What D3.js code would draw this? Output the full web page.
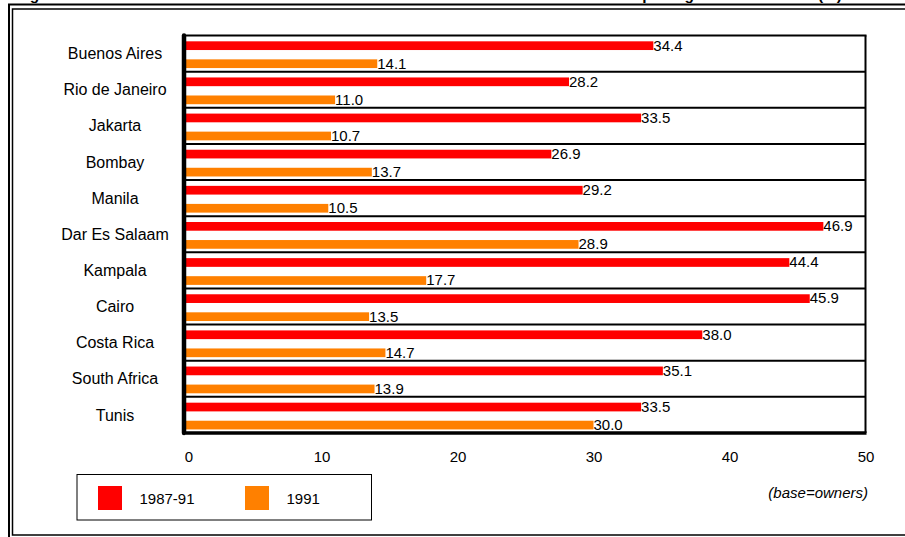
<!DOCTYPE html>
<html>
<head>
<meta charset="utf-8">
<script src="https://cdn.jsdelivr.net/npm/d3@7"></script>
<style>
  body { margin: 0; background: #fff; }
  text { font-family: Arial, "Liberation Sans", sans-serif; fill: #000; }
</style>
</head>
<body>
<div id="chart"></div>
<script>
const width = 905;
const height = 537;

// datos
const cities = ['Buenos Aires', 'Rio de Janeiro', 'Jakarta', 'Bombay', 'Manila',
  'Dar Es Salaam', 'Kampala', 'Cairo', 'Costa Rica', 'South Africa', 'Tunis'];
const series = ['1987-91', '1991'];
const values8791 = [34.4, 28.2, 33.5, 26.9, 29.2, 46.9, 44.4, 45.9, 38.0, 35.1, 33.5];
const values91 = [14.1, 11.0, 10.7, 13.7, 10.5, 28.9, 17.7, 13.5, 14.7, 13.9, 30.0];
const xTicks = [0, 10, 20, 30, 40, 50];
const colors = ['#ff0000', '#ff8000'];

const rows = cities.map((c, i) => ({ city: c, vals: [values8791[i], values91[i]] }));

const svg = d3.select('#chart')
  .append('svg')
  .attr('width', width)
  .attr('height', height);

// titulo (cortado arriba, como en el original)
svg.append('text')
  .attr('x', 16)
  .attr('y', 0)
  .style('font-size', '15.5px')
  .style('font-weight', 'bold')
  .text('Figure 11: Owners with the title of their home held as collateral under current market pricing rules and terms (%)');

// marco doble
svg.append('rect')
  .attr('x', 9).attr('y', 4.5)
  .attr('width', 905).attr('height', 540)
  .attr('fill', 'none').attr('stroke', '#000').attr('stroke-width', 2);
svg.append('rect')
  .attr('x', 12.5).attr('y', 9)
  .attr('width', 905).attr('height', 526)
  .attr('fill', 'none').attr('stroke', '#000').attr('stroke-width', 1.5);

const plotLeft = 185.5;
const plotRight = 865.5;
const plotTop = 35.5;
const plotBottom = 433;

const x = d3.scaleLinear().domain([0, 50]).range([plotLeft, plotRight]);
const y = d3.scaleBand().domain(cities).range([plotTop, plotBottom]).padding(0);
const ySub = d3.scaleBand().domain(series).range([0, y.bandwidth()])
  .paddingInner(0.517).paddingOuter(0.26).align(0.62);

const plot = svg.append('g');

// lineas de separacion
plot.selectAll('.sep')
  .data(cities.slice(1))
  .enter()
  .append('line')
  .attr('x1', plotLeft).attr('x2', plotRight)
  .attr('y1', d => y(d)).attr('y2', d => y(d))
  .attr('stroke', '#000').attr('stroke-width', 2);

// borde superior y derecho
plot.append('line')
  .attr('x1', plotLeft).attr('x2', plotRight + 1)
  .attr('y1', plotTop).attr('y2', plotTop)
  .attr('stroke', '#000').attr('stroke-width', 2);
plot.append('line')
  .attr('x1', plotRight).attr('x2', plotRight)
  .attr('y1', plotTop).attr('y2', plotBottom)
  .attr('stroke', '#000').attr('stroke-width', 2);

// barras
const groups = plot.selectAll('.row')
  .data(rows)
  .enter()
  .append('g')
  .attr('transform', d => `translate(0, ${y(d.city)})`);

groups.selectAll('rect')
  .data(d => d.vals.map((v, j) => ({ v: v, s: series[j], j: j })))
  .enter()
  .append('rect')
  .attr('x', x(0))
  .attr('y', d => ySub(d.s))
  .attr('width', d => x(d.v) - x(0))
  .attr('height', ySub.bandwidth())
  .attr('fill', d => colors[d.j]);

groups.selectAll('.lbl')
  .data(d => d.vals.map((v, j) => ({ v: v, s: series[j] })))
  .enter()
  .append('text')
  .attr('class', 'lbl')
  .attr('x', d => x(d.v))
  .attr('y', d => ySub(d.s) + ySub.bandwidth() + 0.5)
  .style('font-size', '15px')
  .text(d => d.v.toFixed(1));

// etiquetas de ciudades
plot.selectAll('.city')
  .data(cities)
  .enter()
  .append('text')
  .attr('x', 115)
  .attr('y', d => y(d) + y.bandwidth() / 2)
  .attr('dy', '0.35em')
  .attr('text-anchor', 'middle')
  .style('font-size', '16px')
  .text(d => d);

// eje inferior y eje izquierdo
plot.append('line')
  .attr('x1', plotLeft).attr('x2', plotRight + 1)
  .attr('y1', plotBottom).attr('y2', plotBottom)
  .attr('stroke', '#000').attr('stroke-width', 3.5);
plot.append('line')
  .attr('x1', plotLeft - 1.5).attr('x2', plotLeft - 1.5)
  .attr('y1', plotTop).attr('y2', plotBottom)
  .attr('stroke', '#000').attr('stroke-width', 4.5)
  .attr('stroke-linecap', 'round');

const xAxis = svg.append('g')
  .attr('transform', `translate(0, ${plotBottom})`)
  .call(d3.axisBottom(x).tickValues(xTicks).tickSize(0).tickPadding(18));
xAxis.select('.domain').remove();
xAxis.selectAll('text')
  .style('font-size', '15px')
  .style('font-family', 'Arial, "Liberation Sans", sans-serif')
  .attr('fill', '#000');
xAxis.selectAll('.tick').filter(d => d === 0).select('text').attr('dx', '3');

// leyenda
const legend = svg.append('g').attr('transform', 'translate(77, 474.5)');
legend.append('rect')
  .attr('width', 294.5).attr('height', 45.5)
  .attr('fill', '#fff').attr('stroke', '#000').attr('stroke-width', 1);
const legendX = [21, 168];
series.forEach((s, i) => {
  legend.append('rect')
    .attr('x', legendX[i]).attr('y', 11.5)
    .attr('width', 24).attr('height', 24)
    .attr('fill', colors[i]);
  legend.append('text')
    .attr('x', legendX[i] + 41.5)
    .attr('y', 29)
    .style('font-size', '15px')
    .text(s);
});

svg.append('text')
  .attr('x', 868)
  .attr('y', 498)
  .attr('text-anchor', 'end')
  .style('font-size', '15px')
  .style('font-style', 'italic')
  .text('(base=owners)');
</script>
</body>
</html>
